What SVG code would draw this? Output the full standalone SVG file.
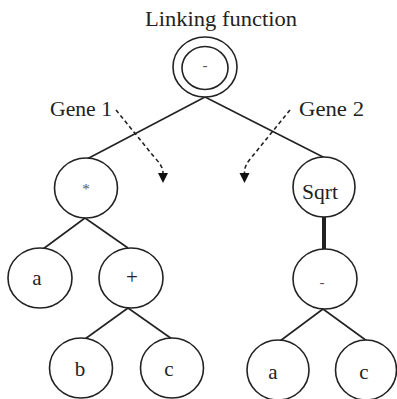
<svg xmlns="http://www.w3.org/2000/svg" width="397" height="399" viewBox="0 0 397 399">
<style>
.n{fill:#fff;stroke:#222;stroke-width:1.6}
.e{stroke:#222;stroke-width:1.6;fill:none}
.d{stroke:#222;stroke-width:1.6;fill:none;stroke-dasharray:4 3}
.t{font-family:"Liberation Serif","Times New Roman",serif;font-size:20px;fill:#222}
.l{font-family:"Liberation Serif","Times New Roman",serif;font-size:21px;fill:#222;text-anchor:middle}
.s{font-family:"Liberation Serif","Times New Roman",serif;font-size:15px;fill:#555;text-anchor:middle}
</style>
<rect width="397" height="399" fill="#fff"/>
<text class="t" x="145" y="26" textLength="152" lengthAdjust="spacingAndGlyphs">Linking function</text>
<text class="t" x="50" y="116" textLength="62" lengthAdjust="spacingAndGlyphs">Gene 1</text>
<text class="t" x="299" y="116" textLength="65" lengthAdjust="spacingAndGlyphs">Gene 2</text>
<g id="connectors">
<line class="e" x1="205" y1="97" x2="87" y2="159"/>
<line class="e" x1="205" y1="97" x2="325" y2="158"/>
<line class="e" x1="85" y1="218" x2="43" y2="249"/>
<line class="e" x1="85" y1="218" x2="128" y2="248"/>
<line class="e" x1="128" y1="308" x2="85" y2="339"/>
<line class="e" x1="128" y1="308" x2="172" y2="339"/>
<line x1="324" y1="217" x2="324" y2="249" stroke="#222" stroke-width="4"/>
<line class="e" x1="323" y1="309" x2="280" y2="341"/>
<line class="e" x1="323" y1="309" x2="367" y2="341"/>
<path class="d" d="M116,110 L155,158 Q163,166 163,173"/>
<polygon points="158,173 168,173 163,183" fill="#111"/>
<path class="d" d="M290,110 L251,158 Q244,166 244.5,173"/>
<polygon points="239.5,173 249.5,173 244.5,183" fill="#111"/>
</g>
<g id="root">
<ellipse class="n" cx="205" cy="67" rx="32" ry="30"/>
<ellipse class="n" cx="205" cy="68" rx="23" ry="21.5"/>
<text class="s" x="205" y="70">-</text>
</g>
<g id="mul">
<ellipse class="n" cx="86" cy="188" rx="31.5" ry="30"/>
<text class="s" x="86" y="194">*</text>
</g>
<g id="sqrt">
<ellipse class="n" cx="324" cy="187" rx="31" ry="30"/>
<text class="t" x="302" y="199" textLength="36" lengthAdjust="spacingAndGlyphs">Sqrt</text>
</g>
<g id="a1">
<ellipse class="n" cx="40" cy="278" rx="32" ry="30"/>
<text class="l" x="37" y="285">a</text>
</g>
<g id="plus">
<ellipse class="n" cx="131" cy="278" rx="32" ry="30"/>
<text class="l" x="132" y="284">+</text>
</g>
<g id="b">
<ellipse class="n" cx="81" cy="368" rx="31.5" ry="30"/>
<text class="l" x="80" y="376">b</text>
</g>
<g id="c1">
<ellipse class="n" cx="172" cy="368" rx="31.5" ry="30"/>
<text class="l" x="169" y="376">c</text>
</g>
<g id="minus">
<ellipse class="n" cx="325" cy="279" rx="32" ry="30"/>
<text class="s" x="322" y="287">-</text>
</g>
<g id="a2">
<ellipse class="n" cx="278" cy="370" rx="31" ry="30"/>
<text class="l" x="273" y="379">a</text>
</g>
<g id="c2">
<ellipse class="n" cx="366" cy="370" rx="30.5" ry="30"/>
<text class="l" x="364" y="379">c</text>
</g>
</svg>
